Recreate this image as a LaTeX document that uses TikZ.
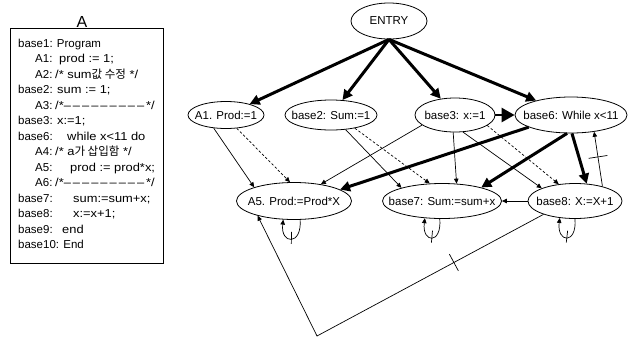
\documentclass[tikz,border=0pt]{standalone}
\usepackage{fontspec}
\setmainfont{Liberation Sans}
\newfontfamily\kr{Noto Sans CJK KR}
\newfontfamily\codefont[FakeStretch=1.12]{Liberation Sans}
\usetikzlibrary{shapes.geometric,arrows.meta,decorations.markings}
\newcommand\mkc[1]{\makebox[0pt]{#1}}
\newcommand\mydsh{\textendash\kern2pt}
\newcommand\mydashes{\mydsh\mydsh\mydsh\mydsh\mydsh\mydsh\mydsh\mydsh\mydsh}
\begin{document}
\begin{tikzpicture}[x=1pt,y=-1pt,
  el/.style={ellipse, draw, line width=0.8pt, inner sep=0pt, font=\fontsize{11.5}{13}\selectfont},
  thinarr/.style={line width=0.7pt, -{Triangle[length=5pt,width=4.5pt]}},
  dsharr/.style={thinarr, dash pattern=on 2.5pt off 2pt},
  boldarr/.style={line width=3pt, -{Triangle[length=10pt,width=10pt]}},
  tickat/.style={postaction={decorate}, decoration={markings, mark=at position #1 with {\draw[line width=0.7pt,solid,-] (0,-9.5pt) -- (0,9.5pt);}}},
  looptick/.style={postaction={decorate}, decoration={markings, mark=at position 0.5 with {\draw[line width=0.7pt,solid,-] (0,-7pt) -- (0,5pt);}}},
  lab/.style={anchor=base west, inner sep=0pt, font=\fontsize{11.5}{13}\selectfont},
  cnt/.style={lab, font=\codefont\fontsize{11.5}{13}\selectfont}
]
\useasboundingbox (0,0) rectangle (636,338);

% ---- code listing ----
\node[draw, line width=0.9pt, minimum width=153pt, minimum height=235pt, anchor=north west, inner sep=0pt] (box) at (10,28) {};
\node[anchor=base, inner sep=0pt, font=\fontsize{16}{16}\selectfont] (atitle) at (82,27) {A};

\node[lab] (l1) at (18,47) {base1: Program};
\node[lab] (l2) at (35,62.5) {A1:};    \node[cnt] (c2) at (59,62.5) {prod := 1;};
\node[lab] (l3) at (35,78) {A2:};      \node[cnt] (c3) at (55,78) {/* sum{\kr 값 수정} */};
\node[lab] (l4) at (18,93.5) {base2:}; \node[cnt] (c4) at (57,93.5) {sum := 1;};
\node[lab] (l5) at (35,109) {A3:};     \node[cnt] (c5) at (55,109) {/*\mydashes*/};
\node[lab] (l6) at (18,124.5) {base3:};\node[cnt] (c6) at (57,124.5) {x:=1;};
\node[lab] (l7) at (18,140) {base6:};  \node[cnt] (c7) at (67,140) {while x<11 do};
\node[lab] (l8) at (35,155.5) {A4:};   \node[cnt] (c8) at (55,155.5) {/* a{\kr 가 삽입함} */};
\node[lab] (l9) at (35,171) {A5:};     \node[cnt] (c9) at (70,171) {prod := prod*x;};
\node[lab] (l10) at (35,186.5) {A6:};  \node[cnt] (c10) at (55,186.5) {/*\mydashes*/};
\node[lab] (l11) at (18,202) {base7:}; \node[cnt] (c11) at (73,202) {sum:=sum+x;};
\node[lab] (l12) at (18,217.5) {base8:};\node[cnt] (c12) at (73,217.5) {x:=x+1;};
\node[lab] (l13) at (18,233) {base9:}; \node[cnt] (c13) at (62,233) {end};
\node[lab] (l14) at (18,248.5) {base10: End};

% ---- graph nodes ----
\node[el, minimum width=76pt, minimum height=36pt] (entry) at (389,21) {\mkc{\fontsize{11.5}{13}\selectfont ENTRY}};
\node[el, minimum width=76pt, minimum height=27pt] (a1) at (226,115) {\mkc{A1. Prod:=1}};
\node[el, minimum width=92pt, minimum height=30pt] (b2) at (331,115) {\mkc{base2: Sum:=1}};
\node[el, minimum width=80pt, minimum height=34pt] (b3) at (455,115) {\mkc{base3: x:=1}};
\node[el, minimum width=112pt, minimum height=36pt] (b6) at (571,115) {\mkc{base6: While x<11}};
\node[el, minimum width=115pt, minimum height=37pt] (a5) at (294,201) {\mkc{A5. Prod:=Prod*X}};
\node[el, minimum width=119pt, minimum height=35pt] (b7) at (442,201) {\mkc{base7: Sum:=sum+x}};
\node[el, minimum width=94pt, minimum height=35pt] (b8) at (575,201) {\mkc{base8: X:=X+1}};
\coordinate (corner) at (317,336);

% ---- thick edges ----
\draw[boldarr] (entry.south) -- (a1);
\draw[boldarr] (entry.south) -- (b2);
\draw[boldarr] (entry.south) -- (b3);
\draw[boldarr] (entry.south) -- (b6);
\draw[line width=2.6pt, -{Triangle[length=13pt,width=14pt]}] (b3.east) -- (b6.west);
\draw[boldarr] (b6.-164) -- (a5.14);
\draw[boldarr] (b6.-102) -- (b7.19);
\draw[boldarr] (b6.-87) -- (b8.56);

% ---- thin edges ----
\draw[thinarr] (a1.-133) -- (a5.161);
\draw[dsharr] (a1.-51) -- (a5.102);
\draw[thinarr] (b2.-45) -- (b7.162);
\draw[dsharr] (b2.-29) -- (b7.125);
\draw[thinarr] (b3.-163) -- (a5.32);
\draw[thinarr] (b3.-96) -- (b7.50);
\draw[thinarr] (b3.-65) -- (b8.159);
\draw[dsharr] (b3.-18) -- (b8.134);
\draw[thinarr] (b8.west) -- (b7.east);
\draw[thinarr, tickat=0.54] (b8.28) -- (b6.-36);
\draw[thinarr, tickat=0.26] (b8.-157) -- (corner) -- (a5.-158);

% ---- self loops ----
\draw[thinarr, looptick] (a5.-72) .. controls +(2,26) and +(-3,25) .. (a5.-120);
\draw[thinarr, looptick] (b7.-97) .. controls +(2,26) and +(-3,25) .. (b7.-135);
\draw[thinarr, looptick] (b8.-90) .. controls +(2,26) and +(-3,25) .. (b8.-132);
\end{tikzpicture}
\end{document}
